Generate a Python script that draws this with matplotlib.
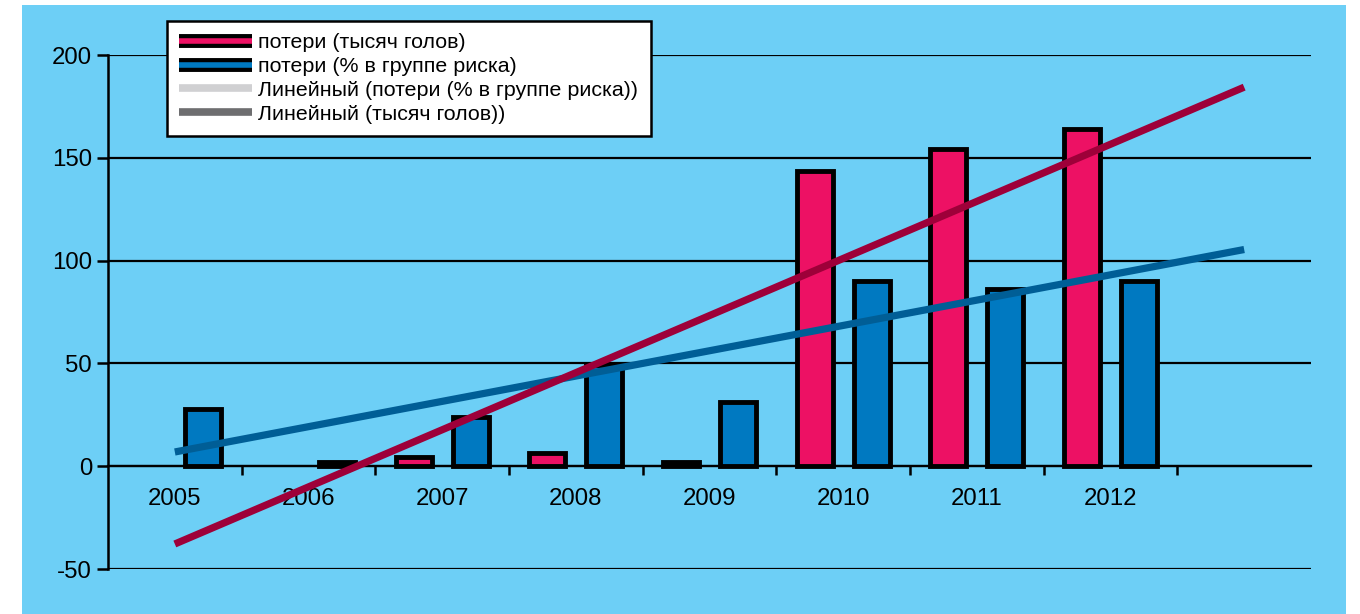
import matplotlib
matplotlib.use('Agg')
import matplotlib.pyplot as plt
import matplotlib.patheffects as pe
from matplotlib.lines import Line2D
from matplotlib.patches import Rectangle
import numpy as np

plt.rcParams['font.family'] = ['Liberation Sans', 'DejaVu Sans']
plt.rcParams['axes.unicode_minus'] = False

years = ['2005', '2006', '2007', '2008', '2009', '2010', '2011', '2012']
loss_heads = [0, 0, 4.5, 6.5, 2, 143.5, 154.5, 164]      # потери, тысяч голов
loss_pct = [28, 2, 24, 49, 31, 90, 86, 90]               # потери, % в группе риска
n_slots = 9   # одна пустая категория справа под продолжение тренда

label_heads = 'потери (тысяч голов)'
label_pct = 'потери (% в группе риска)'
label_trend_pct = 'Линейный (потери (% в группе риска))'
label_trend_heads = 'Линейный (тысяч голов))'

bg = '#6DCFF6'
red = '#ED1164'
blue = '#0079C1'
red_trend = '#9E0039'
blue_trend = '#005E96'

fig = plt.figure(figsize=(13.6, 6.14), dpi=100)
fig.patches.append(Rectangle((22 / 1360, 0), 1324 / 1360, 609 / 614,
                             transform=fig.transFigure, facecolor=bg,
                             edgecolor='none', zorder=-10))

ax = fig.add_axes([108 / 1360, 1 - 569 / 614, 1203 / 1360, 514 / 614])
ax.set_facecolor('none')
ax.set_xlim(0, n_slots)
ax.set_ylim(-50, 200)

# горизонтальные линии сетки
for yv in range(-50, 201, 50):
    ax.axhline(yv, color='black', lw=1.6, zorder=1)

centers = np.arange(len(years)) + 0.5
off = 0.213
width = 0.27
heads = np.array(loss_heads, dtype=float)
pct = np.array(loss_pct, dtype=float)
m1 = heads > 0
m2 = pct > 0
ax.bar(centers[m1] - off, heads[m1], width, color=red, edgecolor='black',
       linewidth=3.5, zorder=3)
ax.bar(centers[m2] + off, pct[m2], width, color=blue, edgecolor='black',
       linewidth=3.5, zorder=3)

# линейные тренды с продлением на один период вперёд
xt = np.array([centers[0], centers[-1] + 1])
k1, b1 = np.polyfit(centers, heads, 1)
k2, b2 = np.polyfit(centers, pct, 1)
ax.plot(xt, k2 * xt + b2, color=blue_trend, lw=5.2, solid_capstyle='butt', zorder=4)
ax.plot(xt, k1 * xt + b1, color=red_trend, lw=5.2, solid_capstyle='butt', zorder=4)

# оси
for s in ['top', 'right']:
    ax.spines[s].set_visible(False)
ax.spines['left'].set_linewidth(1.8)
ax.spines['bottom'].set_position(('data', 0))
ax.spines['bottom'].set_linewidth(1.6)
ax.set_yticks(range(-50, 201, 50))
ax.tick_params(axis='y', direction='out', length=8, width=1.8, pad=3.5,
               labelsize=17.3)
ax.set_xticks(np.arange(1, n_slots))
ax.set_xticklabels([])
ax.set_xticks(centers, minor=True)
ax.set_xticklabels(years, minor=True)
ax.tick_params(axis='x', which='major', direction='out', length=6.5, width=1.8)
ax.tick_params(axis='x', which='minor', length=0, pad=16, labelsize=17.3)

def boxed(color):
    return Line2D([], [], color=color, lw=4, solid_capstyle='butt',
                  path_effects=[pe.Stroke(linewidth=10, foreground='black'),
                                pe.Normal()])

handles = [boxed(red), boxed(blue),
           Line2D([], [], color='#D0D0D2', lw=5.5, solid_capstyle='butt'),
           Line2D([], [], color='#6E6E70', lw=5.5, solid_capstyle='butt')]
labels = [label_heads, label_pct, label_trend_pct, label_trend_heads]
leg = fig.legend(handles, labels, loc='upper left',
                 bbox_to_anchor=(167 / 1360, 1 - 21 / 614), borderaxespad=0,
                 fontsize=15.4, frameon=True, fancybox=False, framealpha=1,
                 edgecolor='black', facecolor='white', handlelength=3.4,
                 handletextpad=0.28, labelspacing=0.22, borderpad=0.58)
leg.get_frame().set_linewidth(1.8)
leg.set_zorder(10)

fig.savefig('out.png', dpi=100, facecolor='white')
